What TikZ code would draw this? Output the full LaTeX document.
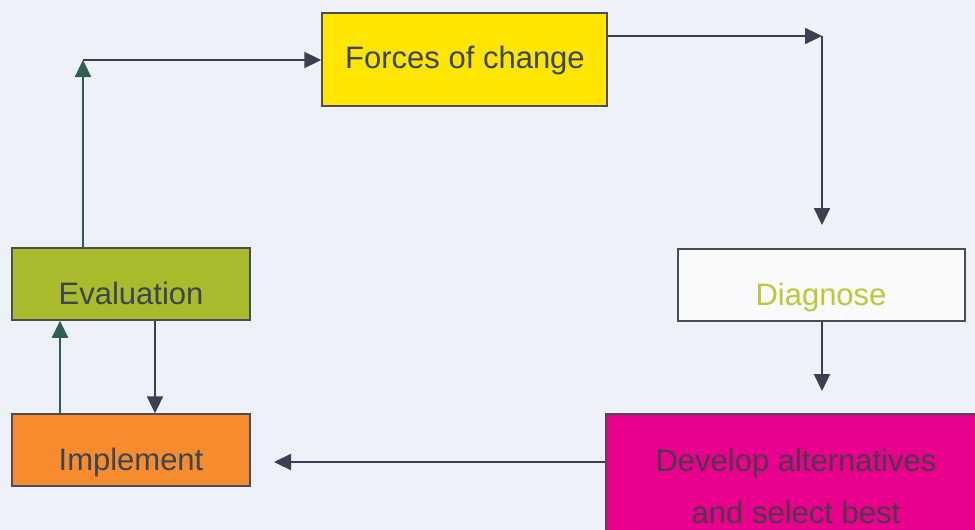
\documentclass[tikz,border=0pt]{standalone}
\usepackage{fontspec}
\setmainfont{Liberation Sans}
\usetikzlibrary{arrows.meta}
\definecolor{bgpaper}{HTML}{EEF2F8}
\definecolor{forcesfill}{HTML}{FFE600}
\definecolor{evalfill}{HTML}{A9BA2A}
\definecolor{implfill}{HTML}{F68C2E}
\definecolor{devfill}{HTML}{E9008C}
\definecolor{diagtext}{HTML}{BCC836}
\definecolor{boxline}{HTML}{4A4C58}
\definecolor{ink}{HTML}{3A4656}
\definecolor{devink}{HTML}{4C3A4C}
\definecolor{arrowdark}{HTML}{3C3F52}
\definecolor{arrowgreen}{HTML}{2F5E52}
\tikzset{
  stage/.style={draw=boxline, line width=1.5pt, rectangle, inner sep=0pt},
  label/.style={anchor=base, text=ink, font=\fontsize{31}{37}\selectfont},
  tip/.style={-{Triangle[length=17pt,width=16pt]}},
  arr/.style={draw=arrowdark, line width=2.3pt, tip},
  arrgreen/.style={draw=arrowgreen, line width=2.3pt, tip}
}
\begin{document}
\begin{tikzpicture}[x=1pt,y=-1pt]
  % paper
  \fill[bgpaper] (0,0) rectangle (975,530);
  \useasboundingbox (0,0) rectangle (975,530);

  % stages
  \node[stage, fill=forcesfill, minimum width=285pt, minimum height=93pt] (forces) at (464.5,59.5) {};
  \node[stage, fill=white!60!bgpaper, minimum width=287pt, minimum height=72pt] (diag) at (821.5,285) {};
  \node[stage, fill=devfill, minimum width=380pt, minimum height=150pt] (develop) at (796,489) {};
  \node[stage, fill=implfill, minimum width=238pt, minimum height=72pt] (impl) at (131,450) {};
  \node[stage, fill=evalfill, minimum width=238pt, minimum height=72pt] (eval) at (131,284) {};

  % texts
  \node[label] (forcestxt) at (465,68) {Forces of change};
  \node[label, text=diagtext] (diagtxt) at (821,305) {Diagnose};
  \node[label, text=devink] (devtxt1) at (796,471) {Develop alternatives};
  \node[label, text=devink] (devtxt2) at (796,523) {and select best};
  \node[label] (impltxt) at (131,470) {Implement};
  \node[label] (evaltxt) at (131,304) {Evaluation};

  % corners and free ends
  \coordinate (turnA) at (822,36);
  \coordinate (endA) at (822,225);
  \coordinate (endB) at (822,391);
  \coordinate (endC) at (274,462);
  \coordinate (turnD) at (83,60);

  % connectors
  \draw[arr] (forces.east |- turnA) -- (turnA);
  \draw[arr] (turnA) -- (endA);
  \draw[arr] (diag.south -| endB) -- (endB);
  \draw[arr] (develop.west |- endC) -- (endC);
  \draw[arr] ([xshift=24pt]eval.south) -- ([xshift=24pt]impl.north);
  \draw[arrgreen] ([xshift=-71pt]impl.north) -- ([xshift=-71pt]eval.south);
  \draw[arrgreen] (eval.north -| turnD) -- (turnD);
  \draw[arr] (turnD) -- (forces.west |- turnD);
\end{tikzpicture}
\end{document}
